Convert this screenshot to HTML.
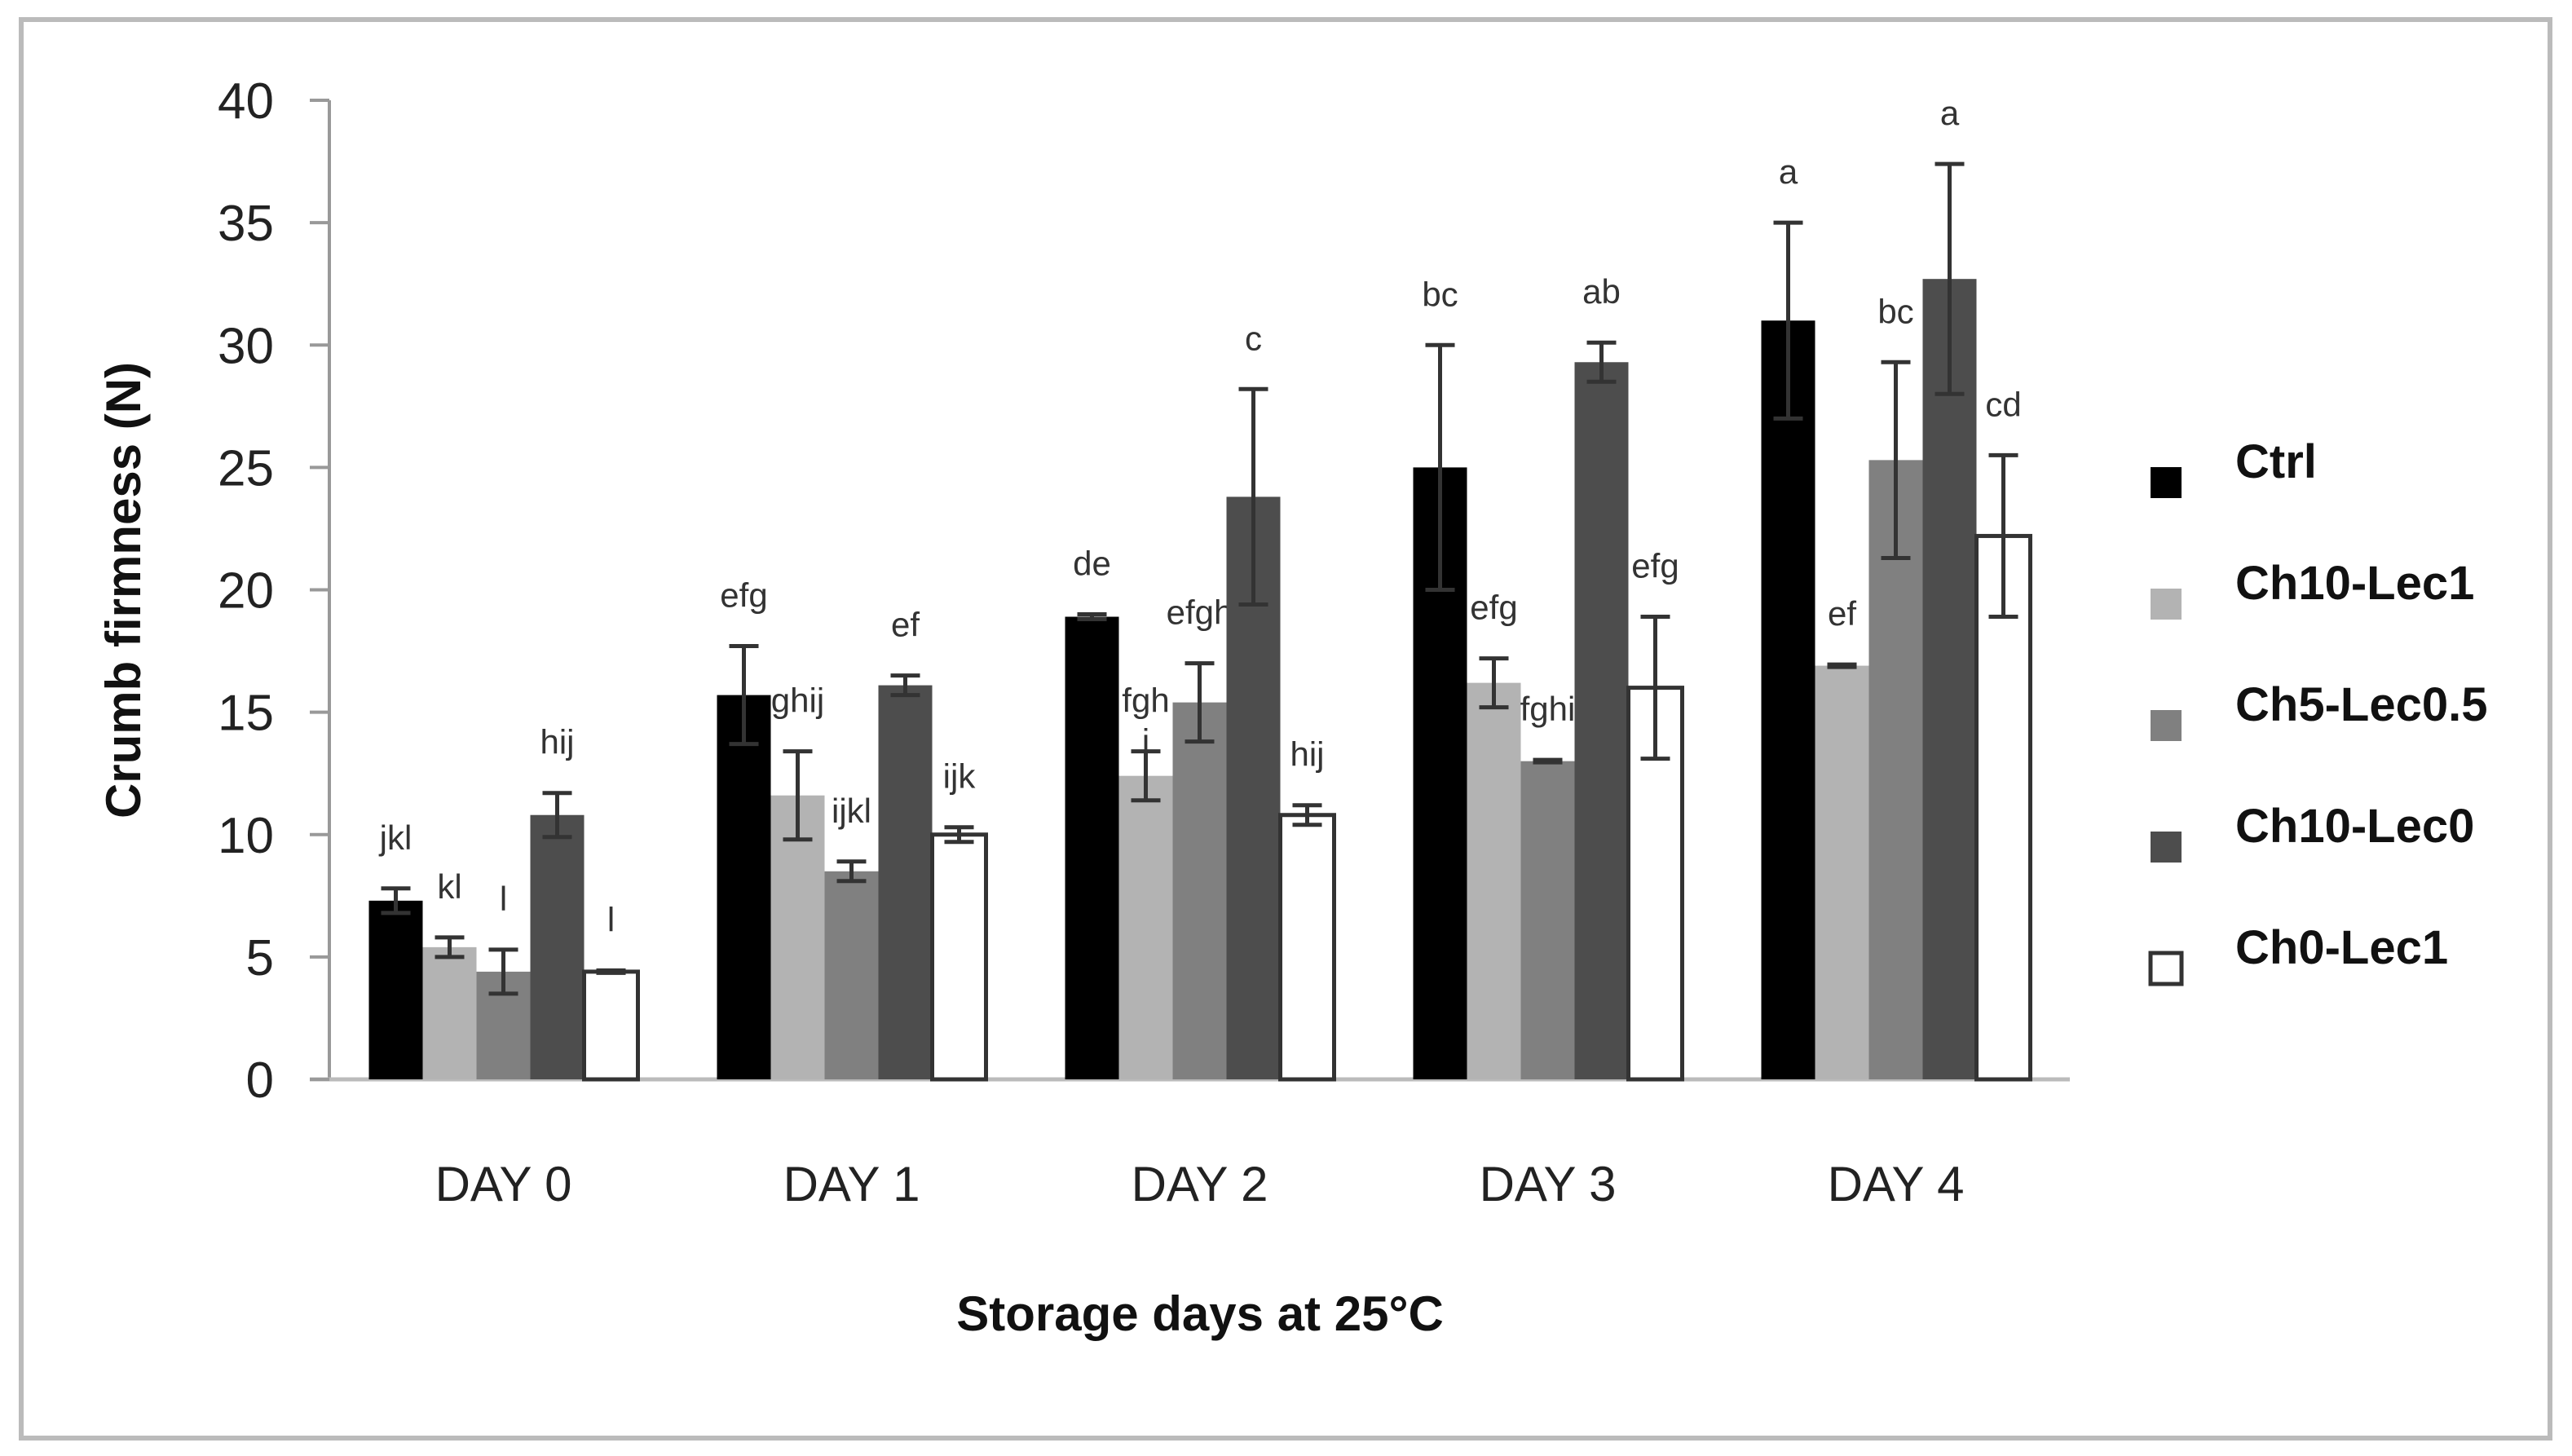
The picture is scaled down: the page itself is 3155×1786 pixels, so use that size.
<!DOCTYPE html>
<html><head><meta charset="utf-8"><style>
html,body{margin:0;padding:0;background:#fff;}
svg{display:block;font-family:"Liberation Sans",sans-serif;}
</style></head><body>
<svg id="chart" width="3155" height="1786" viewBox="0 0 3155 1786">
<rect x="26" y="24" width="3102" height="1740" fill="#fff" stroke="#bbb" stroke-width="6"/>
<text x="0" y="0" transform="translate(172,724) rotate(-90)" text-anchor="middle" font-size="60" font-weight="bold" fill="#111">Crumb firmness (N)</text>
<text x="1472" y="1632" text-anchor="middle" font-size="60" font-weight="bold" fill="#111">Storage days at 25°C</text>
<g id="plot"></g>
<g id="legend"></g>
</svg>
<script>
const categories = ["DAY 0","DAY 1","DAY 2","DAY 3","DAY 4"];
const seriesNames = ["Ctrl","Ch10-Lec1","Ch5-Lec0.5","Ch10-Lec0","Ch0-Lec1"];
const ctrlVals = [7.3,15.7,18.9,25.0,31.0];
const ctrlErr = [0.5,2.0,0.1,5.0,4.0];
const ch10lec1Vals = [5.4,11.6,12.4,16.2,16.9];
const ch10lec1Err = [0.4,1.8,1.0,1.0,0.05];
const ch5lec05Vals = [4.4,8.5,15.4,13.0,25.3];
const ch5lec05Err = [0.9,0.4,1.6,0.05,4.0];
const ch10lec0Vals = [10.8,16.1,23.8,29.3,32.7];
const ch10lec0Err = [0.9,0.4,4.4,0.8,4.7];
const ch0lec1Vals = [4.4,10.0,10.8,16.0,22.2];
const ch0lec1Err = [0.05,0.3,0.4,2.9,3.3];
const ctrlLetters = ["jkl","efg","de","bc","a"];
const ch10lec1Letters = ["kl","ghij","fgh i","efg","ef"];
const ch5lec05Letters = ["l","ijkl","efgh","fghi","bc"];
const ch10lec0Letters = ["hij","ef","c","ab","a"];
const ch0lec1Letters = ["l","ijk","hij","efg","cd"];
const yTicks = [0,5,10,15,20,25,30,35,40];

const values=[ctrlVals,ch10lec1Vals,ch5lec05Vals,ch10lec0Vals,ch0lec1Vals];
const errs=[ctrlErr,ch10lec1Err,ch5lec05Err,ch10lec0Err,ch0lec1Err];
const letters=[ctrlLetters,ch10lec1Letters,ch5lec05Letters,ch10lec0Letters,ch0lec1Letters];
const fills=["#000","#b3b3b3","#808080","#4d4d4d","#fff"];
const NS="http://www.w3.org/2000/svg";
const X0=404,X1=2539,Y0=1324,Y1=123,YMAX=40;
const y=v=>Y0-(v/YMAX)*(Y0-Y1);
const band=(X1-X0)/categories.length;
const barW=66;
const bx=(c,s)=>X0+c*band+(band-barW*seriesNames.length)/2+s*barW;
const plot=document.getElementById('plot');
function mk(tag,at,parent){const e=document.createElementNS(NS,tag);for(const k in at)e.setAttribute(k,at[k]);(parent||plot).appendChild(e);return e;}
let e=mk('line',{x1:X0,y1:Y1,x2:X0,y2:Y0,stroke:'#999','stroke-width':4});


e=mk('line',{x1:380,y1:Y0,x2:X1,y2:Y0,stroke:'#bbb','stroke-width':5});


yTicks.forEach(t=>{
  let l=mk('line',{x1:380,y1:y(t),x2:X0,y2:y(t),stroke:'#999','stroke-width':4});
  
  
  let tx=mk('text',{x:336,y:y(t)+22,'text-anchor':'end','font-size':62,fill:'#222'});
  tx.textContent=t;
  
  
});
categories.forEach((c,ci)=>{
  let tx=mk('text',{x:X0+ci*band+band/2,y:1473,'text-anchor':'middle','font-size':60,fill:'#222'});
  tx.textContent=c;
  
  
  values.forEach((vals,si)=>{
    const v=vals[ci],er=errs[si][ci],x=bx(ci,si);
    let r=mk('rect',{x:x,y:y(v),width:barW,height:Y0-y(v),fill:fills[si],stroke:si==4?'#333':'none','stroke-width':5});
    
    
    const cx=x+barW/2;
    let g=mk('path',{d:`M${cx} ${y(v+er)}V${y(v-er)}M${cx-18} ${y(v+er)}H${cx+18}M${cx-18} ${y(v-er)}H${cx+18}`,stroke:'#333','stroke-width':5,fill:'none'});
    
    
    const parts=letters[si][ci].split(' ');
    parts.forEach((p,pi)=>{
      let lt=mk('text',{x:cx,y:y(v+er)-48+(pi-(parts.length-1))*50+(parts.length>1?50:0),'text-anchor':'middle','font-size':42,fill:'#333'});
      lt.textContent=p;
      
      
    });
  });
});
const leg=document.getElementById('legend');
seriesNames.forEach((n,i)=>{
  const yy=592+i*149;
  let r=mk('rect',{x:2638,y:yy-19,width:38,height:38,fill:fills[i],stroke:i==4?'#333':'none','stroke-width':5},leg);
  
  
  let t=mk('text',{x:2742,y:yy-6,'font-size':58,'font-weight':'bold',fill:'#111'},leg);
  t.textContent=n;
  
  
});
</script>
</body></html>
